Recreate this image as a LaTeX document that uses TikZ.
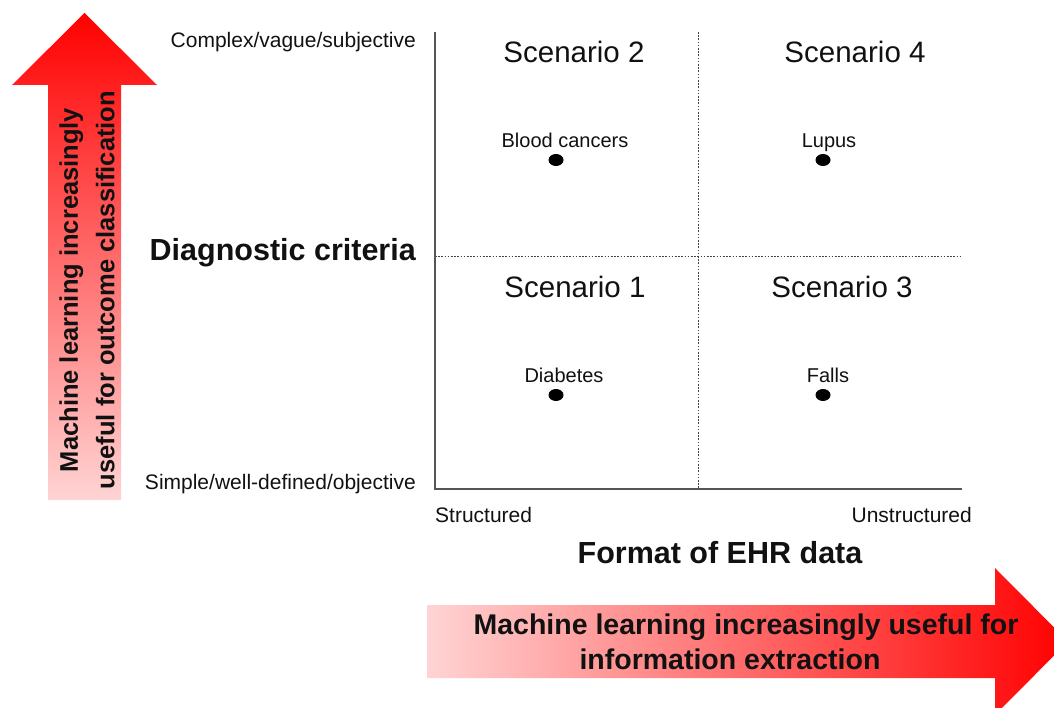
\documentclass[tikz,border=0pt]{standalone}
\usepackage{fontspec}
\setmainfont{Liberation Sans}
\usetikzlibrary{positioning,shapes.geometric}
\definecolor{ink}     {HTML}{111111}
\definecolor{axisgrey}{HTML}{555555}
\definecolor{hot}     {HTML}{FF0000}
\definecolor{blush}   {HTML}{FFD4D4}
\tikzset{
  % --- text
  endlbl/.style = {font=\fontsize{21}{24}\selectfont, text=ink, inner sep=0pt},
  axttl/.style  = {font=\bfseries\fontsize{30.5}{34}\selectfont, text=ink, inner sep=0pt},
  scen/.style   = {font=\fontsize{29.5}{34}\selectfont, text=ink, inner sep=0pt},
  case/.style   = {font=\fontsize{20}{23}\selectfont, text=ink, inner sep=0pt, text depth=0pt},
  mltxt/.style  = {font=\bfseries\fontsize{25.5}{36.5}\selectfont, text=ink, align=center, inner sep=0pt},
  % --- marks and lines
  dot/.style    = {ellipse, fill=black, minimum width=15pt, minimum height=12pt, inner sep=0pt},
  axis/.style   = {draw=axisgrey, line width=1.4pt},
  split/.style  = {draw=ink!80, line width=0.8pt, dash pattern=on 1.6pt off 1.6pt},
}
\begin{document}
\begin{tikzpicture}[x=1pt,y=-1pt]
  \useasboundingbox (0,0) rectangle (1054,708);

  % gradient arrows
  \shade[top color=hot, bottom color=blush]
    (48,500) -- (48,85) -- (12,85) -- (84.5,13) -- (157,85) -- (121,85) -- (121,500) -- cycle;
  \shade[left color=blush, right color=hot]
    (427,605) -- (995,605) -- (995,568) -- (1068,641.5) -- (995,715) -- (995,678) -- (427,678) -- cycle;
  \node[mltxt, rotate=90] (mlv) at (87,290) {Machine learning increasingly\\useful for outcome classification};
  \node[mltxt, font=\bfseries\fontsize{28.5}{35}\selectfont] (mlh) at (746,642) {Machine learning increasingly useful for\\information extraction\hspace*{32pt}};

  % quadrant frame
  \coordinate (o)  at (435,489);
  \coordinate (yt) at (435,32);
  \coordinate (xr) at (962,489);
  \coordinate (vt) at (698,32);
  \coordinate (vb) at (698,489);
  \coordinate (hl) at (435,256);
  \coordinate (hr) at (962,256);
  \draw[split] (vt) -- (vb);
  \draw[split] (hl) -- (hr);
  \draw[axis] (yt) -- (o) -- (xr);

  % axis labels
  \node[endlbl, anchor=east] (cvs) at (416,42) {Complex/vague/subjective};
  \node[axttl,  anchor=east] (dc)  at (416,253) {Diagnostic criteria};
  \node[endlbl, anchor=east] (swo) at (416,484) {Simple/well-defined/objective};
  \node[endlbl, anchor=west] (st)  at (435,515) {Structured};
  \node[endlbl, anchor=east] (ust) at (972,515) {Unstructured};
  \node[axttl] (fmt) at (720,553) {Format of EHR data};

  % scenarios
  \node[scen] (s2) at (574,52)  {Scenario 2};
  \node[scen] (s4) at (855,52)  {Scenario 4};
  \node[scen] (s1) at (575,287) {Scenario 1};
  \node[scen] (s3) at (842,287) {Scenario 3};

  \node[dot] (bc) at (556,160) {};
  \node[dot] (lu) at (823,160) {};
  \node[dot] (di) at (556,395) {};
  \node[dot] (fa) at (823,395) {};
  \node[case, above=6pt of bc, xshift=9pt] {Blood cancers};
  \node[case, above=6pt of lu, xshift=6pt] {Lupus};
  \node[case, above=6pt of di, xshift=8pt] {Diabetes};
  \node[case, above=6pt of fa, xshift=5pt] {Falls};
\end{tikzpicture}
\end{document}
